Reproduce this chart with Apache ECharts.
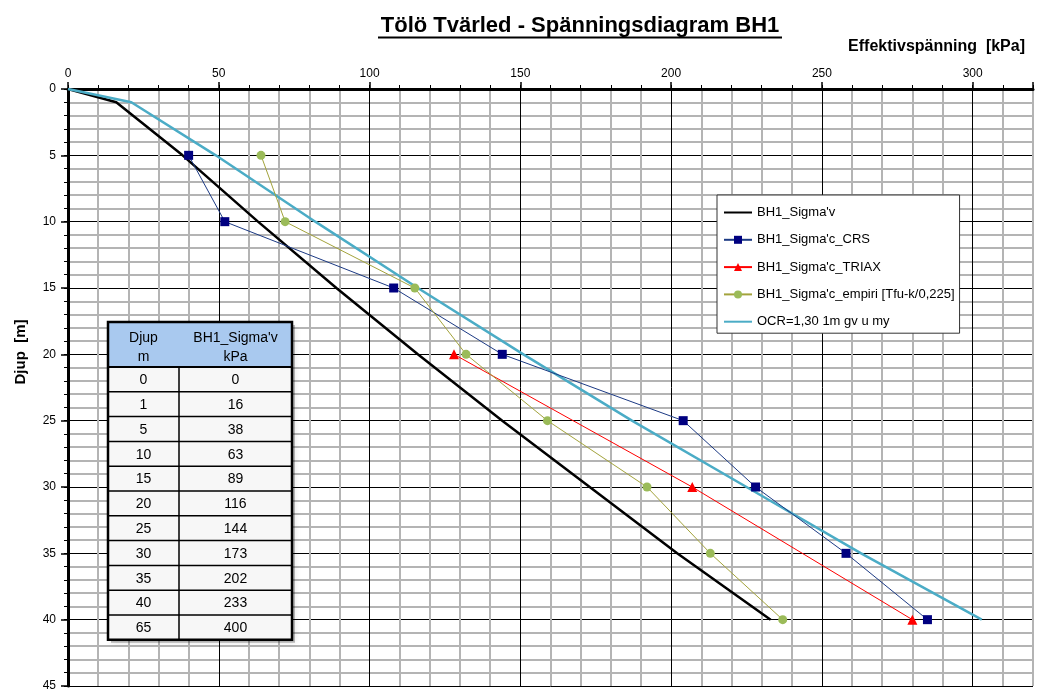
<!DOCTYPE html>
<html>
<head>
<meta charset="utf-8">
<script src="https://cdn.jsdelivr.net/npm/echarts@6/dist/echarts.min.js"></script>
<style>html,body{margin:0;padding:0;background:#fff}#c{width:1041px;height:697px}</style>
</head>
<body>
<div id="c"></div>
<script>
// ---- data ----
const tableDepth = [0, 1, 5, 10, 15, 20, 25, 30, 35, 40, 65];
const tableSigmaV = [0, 16, 38, 63, 89, 116, 144, 173, 202, 233, 400];
const crsDepth = [5, 10, 15, 20, 25, 30, 35, 40];
const crsValues = [40, 52, 108, 144, 204, 228, 258, 285];
const triaxDepth = [20, 30, 40];
const triaxValues = [128, 207, 280];
const empDepth = [5, 10, 15, 20, 25, 30, 35, 40];
const empValues = [64, 72, 115, 132, 159, 192, 213, 237];
const ocrDepth = [0, 1, 5, 10, 15, 20, 25, 30, 35, 40];
const ocrValues = [0, 21, 49, 82, 116, 151, 187, 225, 263, 303];
const xTickLabels = [0, 50, 100, 150, 200, 250, 300];
const yTickLabels = [0, 5, 10, 15, 20, 25, 30, 35, 40, 45];
const seriesNames = ["BH1_Sigma'v", "BH1_Sigma'c_CRS", "BH1_Sigma'c_TRIAX", "BH1_Sigma'c_empiri [Tfu-k/0,225]", "OCR=1,30 1m gv u my"];
const titleText = 'Tölö Tvärled - Spänningsdiagram BH1';
const xName = 'Effektivspänning  [kPa]';
const yName = 'Djup  [m]';

const pairs = (ys, xs) => xs.map((x, i) => [x, ys[i]]);
const SANS = "'Liberation Sans',Arial,sans-serif";

const G = { left: 68, top: 89, right: 8, bottom: 11 };
const gray = '#b4b4b4';
const grayArr = ['rgba(0,0,0,0)', gray, gray, gray, gray];

// ---- table graphic ----
const T = { x: 108, y: 322, c1: 71, c2: 113, hh: 45, rh: 24.8 };
const tableEls = [];
const tw = T.c1 + T.c2;
const th = T.hh + T.rh * tableDepth.length;
tableEls.push({ type: 'rect', shape: { x: T.x + 3, y: T.y + 3, width: tw, height: th }, style: { fill: 'rgba(0,0,0,0.25)', shadowBlur: 6, shadowColor: 'rgba(0,0,0,0.4)' }, z: 10 });
tableEls.push({ type: 'rect', shape: { x: T.x, y: T.y, width: tw, height: th }, style: { fill: '#f7f7f7' }, z: 11 });
tableEls.push({ type: 'rect', shape: { x: T.x, y: T.y, width: tw, height: T.hh }, style: { fill: '#a9c9ef' }, z: 11 });
for (let i = 0; i < tableDepth.length; i++) {
  const yy = T.y + T.hh + T.rh * i;
  tableEls.push({ type: 'line', shape: { x1: T.x, y1: yy, x2: T.x + tw, y2: yy }, style: { stroke: '#000', lineWidth: i === 0 ? 2 : 1.5 }, z: 12 });
  const cy = yy + T.rh / 2 + 1;
  tableEls.push({ type: 'text', x: T.x + T.c1 / 2, y: cy, style: { text: String(tableDepth[i]), font: '14px ' + SANS, fill: '#000', align: 'center', verticalAlign: 'middle' }, z: 13 });
  tableEls.push({ type: 'text', x: T.x + T.c1 + T.c2 / 2, y: cy, style: { text: String(tableSigmaV[i]), font: '14px ' + SANS, fill: '#000', align: 'center', verticalAlign: 'middle' }, z: 13 });
}
tableEls.push({ type: 'text', x: T.x + T.c1 / 2, y: T.y + 16, style: { text: 'Djup', font: '14px ' + SANS, fill: '#000', align: 'center', verticalAlign: 'middle' }, z: 13 });
tableEls.push({ type: 'text', x: T.x + T.c1 / 2, y: T.y + 35, style: { text: 'm', font: '14px ' + SANS, fill: '#000', align: 'center', verticalAlign: 'middle' }, z: 13 });
tableEls.push({ type: 'text', x: T.x + T.c1 + T.c2 / 2, y: T.y + 16, style: { text: "BH1_Sigma'v", font: '14px ' + SANS, fill: '#000', align: 'center', verticalAlign: 'middle' }, z: 13 });
tableEls.push({ type: 'text', x: T.x + T.c1 + T.c2 / 2, y: T.y + 35, style: { text: 'kPa', font: '14px ' + SANS, fill: '#000', align: 'center', verticalAlign: 'middle' }, z: 13 });
tableEls.push({ type: 'line', shape: { x1: T.x + T.c1, y1: T.y + T.hh, x2: T.x + T.c1, y2: T.y + th }, style: { stroke: '#000', lineWidth: 1.5 }, z: 12 });
tableEls.push({ type: 'rect', shape: { x: T.x, y: T.y, width: tw, height: th }, style: { fill: 'none', stroke: '#000', lineWidth: 2.5 }, z: 14 });

const noSym = { opacity: 0 };
const chart = echarts.init(document.getElementById('c'), null, { renderer: 'canvas' });
chart.setOption({
  animation: false,
  backgroundColor: '#fff',
  grid: { left: G.left, top: G.top, right: G.right, bottom: G.bottom, containLabel: false },
  xAxis: [
    { type: 'value', position: 'top', min: 0, max: 320, interval: 10,
      axisLine: { show: true, lineStyle: { color: '#000', width: 3 } },
      axisTick: { show: true, length: 4, lineStyle: { color: '#000', width: 1 } },
      axisLabel: { show: false },
      splitLine: { show: true, lineStyle: { color: grayArr, width: 2 } } },
    { type: 'value', position: 'top', min: 0, max: 320, interval: 50,
      axisLine: { show: false },
      axisTick: { show: true, length: 7, lineStyle: { color: '#000', width: 1.5 } },
      axisLabel: { show: true, margin: 9, color: '#000', fontSize: 12, fontFamily: SANS,
        formatter: v => xTickLabels.indexOf(v) >= 0 ? String(v) : '' },
      splitLine: { show: true, showMaxLine: false, lineStyle: { color: '#000', width: 1 } } }
  ],
  yAxis: [
    { type: 'value', inverse: true, position: 'left', min: 0, max: 45, interval: 1,
      axisLine: { show: true, lineStyle: { color: '#000', width: 3 } },
      axisTick: { show: true, length: 4, lineStyle: { color: '#000', width: 1 } },
      axisLabel: { show: false },
      splitLine: { show: true, lineStyle: { color: grayArr, width: 2 } } },
    { type: 'value', inverse: true, position: 'left', min: 0, max: 45, interval: 5,
      axisLine: { show: false },
      axisTick: { show: true, length: 7, lineStyle: { color: '#000', width: 1.5 } },
      axisLabel: { show: true, margin: 12, color: '#000', fontSize: 12, fontFamily: SANS,
        formatter: v => yTickLabels.indexOf(v) >= 0 ? String(v) : '' },
      splitLine: { show: true, lineStyle: { color: '#000', width: 1 } } }
  ],
  legend: {
    orient: 'vertical', left: 717, top: 195, itemGap: 14.3, itemWidth: 28, itemHeight: 10,
    padding: [11, 5, 5, 6],
    backgroundColor: '#fff', borderColor: '#333', borderWidth: 1, borderRadius: 0,
    textStyle: { color: '#000', fontSize: 13, fontFamily: SANS },
    data: [
      { name: seriesNames[0], itemStyle: noSym },
      { name: seriesNames[1] },
      { name: seriesNames[2] },
      { name: seriesNames[3] },
      { name: seriesNames[4], itemStyle: noSym }
    ]
  },
  series: [
    { name: seriesNames[0], type: 'line', xAxisIndex: 0, yAxisIndex: 0, symbol: 'none',
      data: pairs(tableDepth.slice(0, 10), tableSigmaV.slice(0, 10)),
      lineStyle: { color: '#000', width: 2.5 }, itemStyle: { color: '#000' }, z: 5 },
    { name: seriesNames[1], type: 'line', xAxisIndex: 0, yAxisIndex: 0, symbol: 'rect', symbolSize: 9,
      data: pairs(crsDepth, crsValues),
      lineStyle: { color: '#1c3a84', width: 1 }, itemStyle: { color: '#000080' }, z: 6 },
    { name: seriesNames[2], type: 'line', xAxisIndex: 0, yAxisIndex: 0, symbol: 'triangle', symbolSize: 10,
      data: pairs(triaxDepth, triaxValues),
      lineStyle: { color: '#ff0000', width: 1 }, itemStyle: { color: '#ff0000' }, z: 6 },
    { name: seriesNames[3], type: 'line', xAxisIndex: 0, yAxisIndex: 0, symbol: 'circle', symbolSize: 9,
      data: pairs(empDepth, empValues),
      lineStyle: { color: '#a3a33c', width: 1 }, itemStyle: { color: '#9bbb59' }, z: 6 },
    { name: seriesNames[4], type: 'line', xAxisIndex: 0, yAxisIndex: 0, symbol: 'none',
      data: pairs(ocrDepth, ocrValues),
      lineStyle: { color: '#4bacc6', width: 2.5 }, itemStyle: { color: '#4bacc6' }, z: 5 }
  ],
  graphic: [
    { type: 'text', x: 580, y: 26, style: { text: titleText, font: 'bold 22px ' + SANS, fill: '#000', align: 'center', verticalAlign: 'middle' }, z: 20 },
    { type: 'line', shape: { x1: 378, y1: 37.5, x2: 782, y2: 37.5 }, style: { stroke: '#000', lineWidth: 2 }, z: 20 },
    { type: 'text', x: 1025, y: 47, style: { text: xName, font: 'bold 16px ' + SANS, fill: '#000', align: 'right', verticalAlign: 'middle' }, z: 20 },
    { type: 'text', x: 21, y: 352, rotation: Math.PI / 2, style: { text: yName, font: 'bold 15px ' + SANS, fill: '#000', align: 'center', verticalAlign: 'middle' }, z: 20 },
    ...tableEls
  ]
});
</script>
</body>
</html>
